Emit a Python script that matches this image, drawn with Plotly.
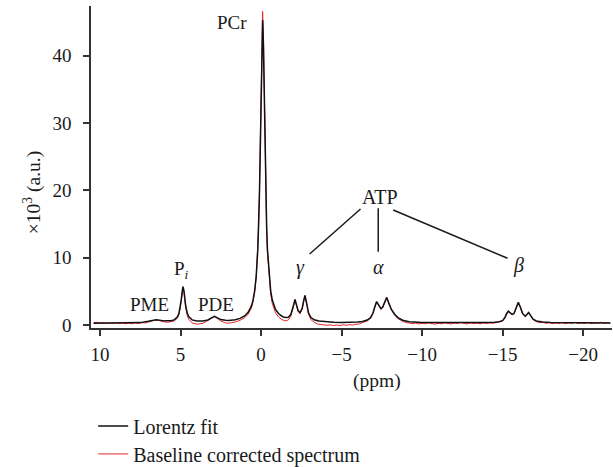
import plotly.graph_objects as go

# ---- Lorentz fit (black) : chemical shift (ppm) and signal (x10^3 a.u.)
fit_ppm = [
    10.4, 9.0, 8.0, 7.5, 7.0, 6.5, 6.0, 5.6, 5.4, 5.2,
    5.1, 5.0, 4.95, 4.9, 4.84, 4.78, 4.73, 4.68, 4.58, 4.48,
    4.28, 3.98, 3.6, 3.3, 3.1, 2.9, 2.7, 2.5, 2.2, 2.0,
    1.6, 1.3, 1.0, 0.8, 0.6, 0.5, 0.4, 0.3, 0.2, 0.15,
    0.1, 0.05, 0.0, -0.05, -0.1, -0.15, -0.2, -0.25, -0.3, -0.35,
    -0.4, -0.5, -0.6, -0.7, -0.9, -1.1, -1.3, -1.5, -1.7, -1.85,
    -1.95, -2.03, -2.11, -2.2, -2.3, -2.42, -2.55, -2.65, -2.73, -2.82,
    -2.95, -3.1, -3.3, -3.6, -4.0, -4.5, -5.0, -5.5, -6.0, -6.3,
    -6.6, -6.8, -6.95, -7.05, -7.18, -7.3, -7.45, -7.55, -7.65, -7.81,
    -7.95, -8.1, -8.3, -8.5, -8.8, -9.2, -10.0, -12.0, -14.0, -14.5,
    -14.8, -15.0, -15.15, -15.25, -15.36, -15.48, -15.6, -15.72, -15.85, -15.98,
    -16.1, -16.25, -16.42, -16.52, -16.62, -16.75, -16.9, -17.1, -17.5, -18.0,
    -19.0, -20.0, -21.7,
]
fit_val = [
    0.27, 0.27, 0.3, 0.35, 0.55, 0.79, 0.61, 0.62, 0.75, 1.17,
    1.7, 2.86, 3.82, 4.95, 5.7, 4.95, 3.82, 2.86, 1.75, 1.2,
    0.75, 0.59, 0.6, 0.75, 1.02, 1.28, 1.05, 0.8, 0.69, 0.67,
    0.79, 0.98, 1.37, 1.87, 2.8, 3.66, 5.0, 7.2, 11.2, 14.5,
    19.2, 25.6, 33.7, 41.7, 45.3, 41.7, 33.7, 25.6, 19.2, 14.5,
    11.2, 7.25, 5.05, 3.7, 2.3, 1.66, 1.3, 1.1, 1.15, 1.55,
    2.2, 3.0, 3.8, 3.1, 2.15, 1.83, 2.4, 3.6, 4.39, 3.4,
    1.8, 1.1, 0.78, 0.58, 0.47, 0.4, 0.37, 0.38, 0.44, 0.53,
    0.74, 1.09, 1.74, 2.55, 3.48, 2.98, 2.42, 2.62, 3.24, 4.1,
    3.17, 2.3, 1.6, 1.1, 0.7, 0.48, 0.36, 0.32, 0.36, 0.42,
    0.48, 0.65, 1.1, 1.7, 2.05, 1.8, 1.58, 1.75, 2.6, 3.37,
    2.7, 1.7, 1.3, 1.55, 1.85, 1.4, 0.85, 0.6, 0.45, 0.38,
    0.33, 0.3, 0.28,
]

# ---- Baseline corrected spectrum (red)
spec_ppm = [
    10.4, 10.2, 10.0, 9.8, 9.6, 9.4, 9.2, 9.0, 8.8, 8.6,
    8.4, 8.2, 8.0, 7.8, 7.6, 7.4, 7.2, 7.0, 6.8, 6.6,
    6.4, 6.2, 6.0, 5.8, 5.6, 5.4, 5.2, 5.1, 5.0, 4.95,
    4.9, 4.84, 4.78, 4.73, 4.68, 4.58, 4.48, 4.28, 4.1, 3.98,
    3.8, 3.6, 3.45, 3.3, 3.1, 2.9, 2.7, 2.5, 2.3, 2.1,
    1.9, 1.7, 1.5, 1.3, 1.0, 0.8, 0.6, 0.5, 0.4, 0.3,
    0.2, 0.15, 0.1, 0.05, 0.0, -0.05, -0.1, -0.15, -0.2, -0.25,
    -0.3, -0.35, -0.4, -0.5, -0.6, -0.7, -0.9, -1.1, -1.3, -1.5,
    -1.7, -1.85, -1.95, -2.03, -2.11, -2.2, -2.3, -2.42, -2.55, -2.65,
    -2.73, -2.82, -2.95, -3.1, -3.3, -3.5, -3.7, -3.9, -4.1, -4.3,
    -4.5, -4.7, -4.9, -5.1, -5.3, -5.5, -5.7, -5.9, -6.1, -6.3,
    -6.6, -6.8, -6.95, -7.05, -7.18, -7.3, -7.45, -7.55, -7.65, -7.81,
    -7.95, -8.1, -8.3, -8.5, -8.8, -9.0, -9.2, -9.4, -9.6, -9.8,
    -10.0, -10.2, -10.4, -10.6, -10.8, -11.0, -11.2, -11.4, -11.6, -11.8,
    -12.0, -12.2, -12.4, -12.6, -12.8, -13.0, -13.2, -13.4, -13.6, -13.8,
    -14.0, -14.2, -14.4, -14.6, -14.8, -15.0, -15.15, -15.25, -15.36, -15.48,
    -15.6, -15.72, -15.85, -15.98, -16.1, -16.25, -16.42, -16.52, -16.62, -16.75,
    -16.9, -17.1, -17.3, -17.5, -17.7, -17.9, -18.1, -18.3, -18.5, -18.7,
    -18.9, -19.1, -19.3, -19.5, -19.7, -19.9, -20.1, -20.3, -20.5, -20.7,
    -20.9, -21.1, -21.3, -21.5, -21.7,
]
spec_val = [
    0.35, 0.4, 0.3, 0.38, 0.25, 0.32, 0.22, 0.3, 0.2, 0.28,
    0.18, 0.26, 0.2, 0.3, 0.22, 0.35, 0.3, 0.45, 0.6, 0.72,
    0.7, 0.55, 0.45, 0.4, 0.45, 0.6, 1.0, 1.55, 2.7, 3.7,
    4.9, 5.65, 4.8, 3.6, 2.6, 1.4, 0.8, 0.3, 0.15, 0.12,
    0.18, 0.25, 0.45, 0.65, 0.95, 1.25, 0.95, 0.6, 0.4, 0.25,
    0.3, 0.35, 0.5, 0.7, 1.1, 1.6, 2.5, 3.4, 4.8, 7.0,
    11.0, 14.5, 19.5, 26.5, 35.0, 43.0, 46.6, 42.5, 34.0, 25.5,
    19.0, 14.2, 10.8, 6.8, 4.6, 3.2, 1.8, 1.15, 0.8, 0.6,
    0.75, 1.3, 2.0, 2.9, 3.75, 3.0, 2.0, 1.7, 2.3, 3.5,
    4.35, 3.3, 1.6, 0.8, 0.4, 0.15, 0.05, 0.0, -0.05, 0.02,
    -0.08, 0.0, -0.1, 0.03, -0.05, 0.05, 0.0, 0.1, 0.15, 0.35,
    0.6, 1.0, 1.7, 2.5, 3.4, 2.95, 2.35, 2.55, 3.2, 4.05,
    3.1, 2.2, 1.5, 0.95, 0.55, 0.35, 0.3, 0.2, 0.28, 0.15,
    0.25, 0.18, 0.3, 0.2, 0.12, 0.25, 0.18, 0.3, 0.2, 0.15,
    0.28, 0.2, 0.35, 0.22, 0.15, 0.3, 0.2, 0.28, 0.18, 0.3,
    0.22, 0.3, 0.25, 0.35, 0.45, 0.6, 1.05, 1.6, 2.0, 1.75,
    1.55, 1.7, 2.55, 3.3, 2.65, 1.65, 1.25, 1.5, 1.8, 1.35,
    0.8, 0.5, 0.35, 0.4, 0.25, 0.35, 0.2, 0.3, 0.22, 0.35,
    0.18, 0.3, 0.25, 0.4, 0.2, 0.3, 0.22, 0.38, 0.2, 0.3,
    0.25, 0.4, 0.22, 0.35, 0.3,
]

x_ticks = [10, 5, 0, -5, -10, -15, -20]
y_ticks = [0, 10, 20, 30, 40]

# peak labels: text, ppm, value, font size
peak_labels = ["PCr", "P<sub><i>i</i></sub>", "PME", "PDE", "ATP",
               "<i>γ</i>", "<i>α</i>", "<i>β</i>"]
label_ppm = [1.79, 4.96, 6.95, 2.78, -7.42, -2.45, -7.28, -15.97]
label_val = [44.9, 8.2, 3.0, 3.0, 19.0, 8.6, 8.6, 8.9]
label_size = [19, 19, 19, 19, 20, 20, 20, 20]

# ATP leader lines: (ppm0, val0) -> (ppm1, val1)
leader_x0 = [-6.18, -7.28, -8.21]
leader_y0 = [17.24, 17.34, 17.09]
leader_x1 = [-3.02, -7.28, -15.31]
leader_y1 = [10.55, 10.89, 9.91]

FONT = "Liberation Serif"
INK = "#1a1a1a"

fig = go.Figure()
fig.add_trace(go.Scatter(
    x=spec_ppm, y=spec_val, mode="lines", name="Baseline corrected spectrum",
    line=dict(color="#e8262b", width=1), legend="legend2",
))
fig.add_trace(go.Scatter(
    x=fit_ppm, y=fit_val, mode="lines", name="Lorentz fit",
    line=dict(color="#111111", width=1.5), legend="legend",
))

for t, px, py, fs in zip(peak_labels, label_ppm, label_val, label_size):
    fig.add_annotation(x=px, y=py, xref="x", yref="y", text=t, showarrow=False,
                       xanchor="center", yanchor="middle",
                       font=dict(family=FONT, size=fs, color=INK))

for a, b, c, d in zip(leader_x0, leader_y0, leader_x1, leader_y1):
    fig.add_shape(type="line", x0=a, y0=b, x1=c, y1=d, xref="x", yref="y",
                  line=dict(color=INK, width=1.5))

fig.add_annotation(x=0.549, y=-0.165, xref="paper", yref="paper", text="(ppm)",
                   showarrow=False, xanchor="center", yanchor="middle",
                   font=dict(family=FONT, size=19.5, color=INK))
fig.add_annotation(x=-0.113, y=0.419, xref="paper", yref="paper",
                   text="×10<sup>3</sup> (a.u.)", textangle=-90, showarrow=False,
                   xanchor="center", yanchor="middle",
                   font=dict(family=FONT, size=19.5, color=INK))

axis_common = dict(
    showline=True, linecolor="#333333", linewidth=1.5, ticks="outside",
    ticklen=6, tickwidth=1.5, tickcolor="#333333", showgrid=False, zeroline=False,
    tickfont=dict(family=FONT, size=19, color=INK), automargin=False,
)
fig.update_xaxes(range=[10.56, -21.8], tickvals=x_ticks, ticklabelstandoff=2, **axis_common)
fig.update_yaxes(range=[-0.45, 47.4], tickvals=y_ticks, ticklabelstandoff=8, **axis_common)

leg_common = dict(xref="container", yref="container", x=0.152, xanchor="left",
                  yanchor="middle", itemwidth=30, bgcolor="rgba(0,0,0,0)",
                  font=dict(family=FONT, size=20, color=INK))
fig.update_layout(
    width=613, height=467,
    margin=dict(l=91, r=1, t=6, b=139, autoexpand=False),
    plot_bgcolor="white", paper_bgcolor="white",
    showlegend=True,
    legend=dict(y=0.088, **leg_common),
    legend2=dict(y=0.028, **leg_common),
)

fig.write_html("out.html",
               config={"displayModeBar": False},
               post_script="document.body.style.margin='0';document.body.style.overflow='hidden';")
